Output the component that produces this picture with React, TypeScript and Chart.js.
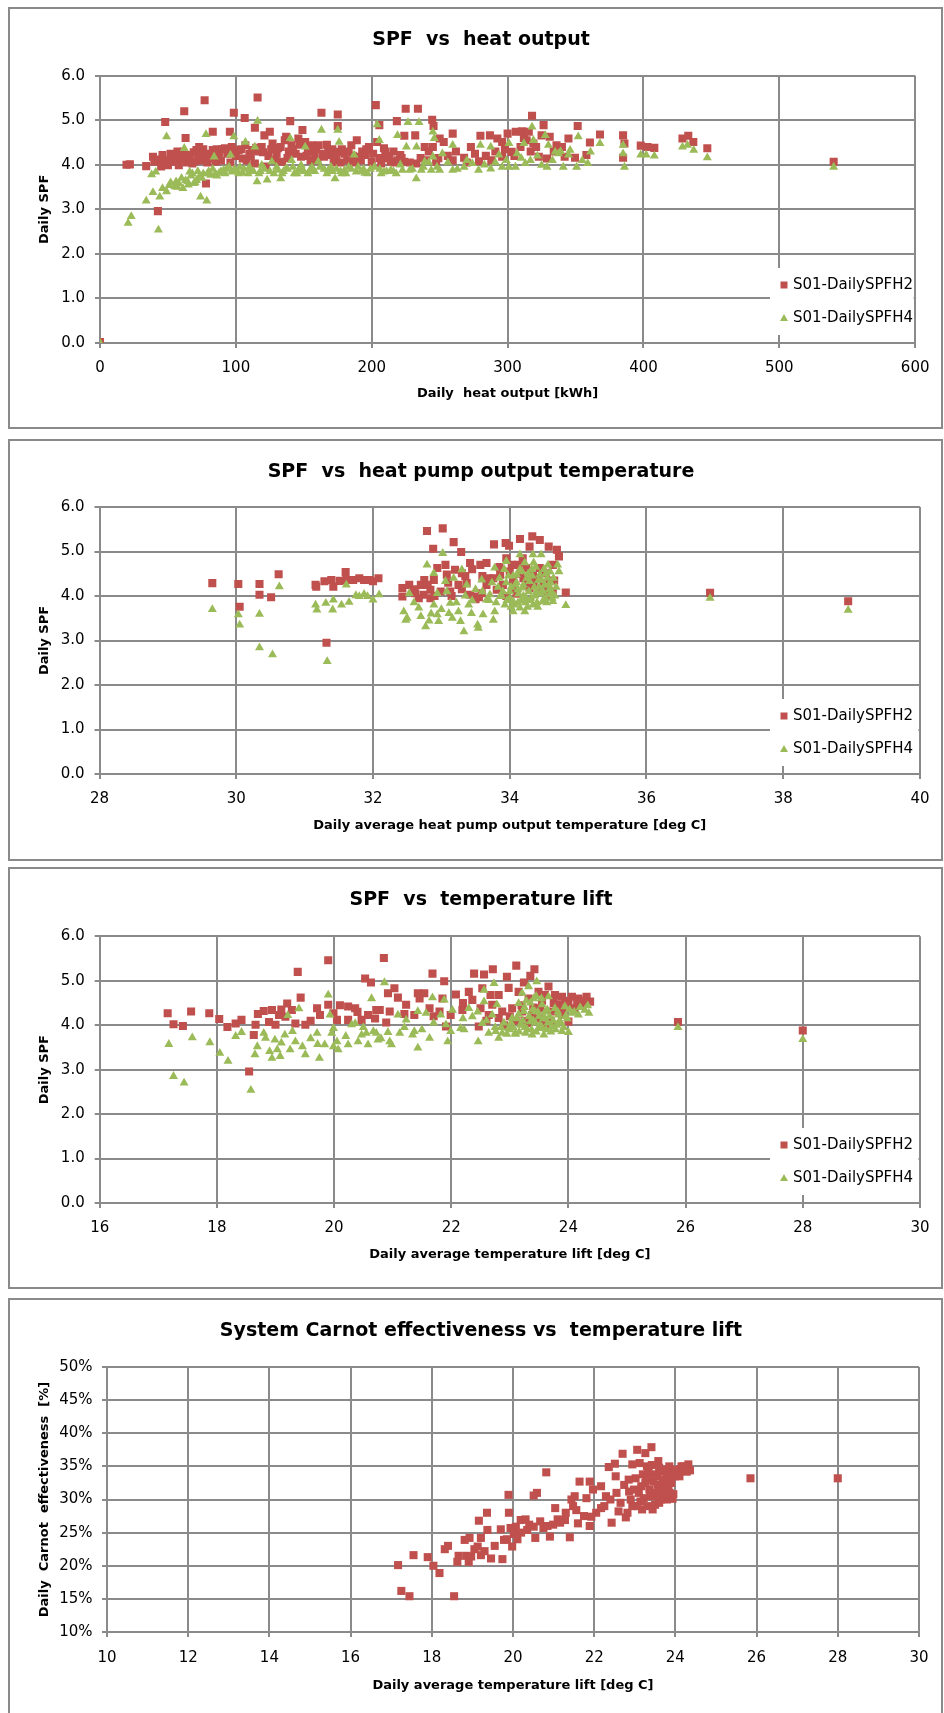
import React, { useEffect, useRef } from 'react';
import { Chart, registerables } from 'chart.js';

Chart.register(...registerables);

const FONT = '"DejaVu Sans", sans-serif';
const RED = '#C0504D';
const GREEN = '#9BBB59';
const GRID = '#8A8A8A';

type Pt = [number, number];

// ---------- Chart 1: SPF vs heat output (kWh, SPF) ----------
const heatOutputSpfH2: Pt[] = [
  [0, 0.02], [19.5, 4.0], [22, 4.01], [34, 3.97], [39, 4.18], [40, 4.07], [42.6, 2.96], [43, 4.12], [45, 3.96], [46, 4.22],
  [48, 4.96], [49, 4.1], [50, 3.99], [52, 4.25], [54, 4.15], [56, 4.07], [58, 3.99], [59, 4.2], [61, 4.29], [62, 5.2],
  [63, 4.6], [64, 4.05], [66, 4.22], [68, 4.03], [69, 4.28], [71, 4.33], [73, 4.18], [73, 4.4], [75, 4.1], [77, 5.45],
  [78, 4.25], [78, 3.58], [80, 4.15], [83, 4.33], [83, 4.74], [85, 4.07], [87, 4.2], [88, 4.29], [90, 4.35], [92, 4.37],
  [95.6, 4.74], [97, 4.4], [98.5, 5.17], [100, 4.2], [102, 4.33], [105, 4.14], [106.5, 5.05], [107, 4.44], [110, 4.25], [112, 4.33],
  [114, 4.83], [114, 4.03], [116, 5.51], [117, 4.3], [119, 4.4], [121, 4.66], [122, 3.96], [124, 4.2], [125, 4.74], [127, 4.48],
  [129, 4.1], [131, 4.37], [134, 4.07], [136, 4.55], [137, 4.63], [139, 4.3], [140, 4.98], [141, 4.44], [144, 4.25], [146, 4.59],
  [148, 4.18], [149, 4.78], [151, 4.51], [153, 4.3], [156, 4.44], [158, 4.25], [160, 4.1], [161, 4.44], [163, 5.17], [165, 4.18],
  [168, 4.33], [170, 4.22], [172, 4.05], [175, 5.13], [175, 4.87], [175, 4.29], [178, 4.35], [180, 4.25], [182, 4.1], [185, 4.44],
  [187, 4.05], [189, 4.55], [190, 4.18], [193, 4.3], [195, 4.22], [198, 4.4], [200, 4.07], [203, 5.34], [204, 4.51], [205.6, 4.89],
  [207, 4.03], [209, 4.37], [211, 4.15], [214, 4.07], [216, 4.3], [218.5, 4.98], [219, 4.1], [221, 4.22], [224, 4.07], [224, 4.65],
  [225, 5.26], [232, 4.66], [232.8, 4.03], [234, 5.26], [239, 4.4], [240, 4.1], [244.5, 5.01], [245, 4.4], [245.5, 4.87], [247.4, 4.07],
  [250, 4.59], [253, 4.51], [259.6, 4.7], [259.6, 4.1], [268, 4.16], [273, 4.4], [279, 4.08], [280, 4.65], [287, 4.66], [288, 4.1],
  [292.5, 4.59], [296, 4.51], [296, 4.18], [300, 4.7], [303, 4.29], [306, 4.74], [309.5, 4.4], [310.7, 4.75], [314, 4.55], [315.6, 4.74],
  [318, 5.1], [319, 4.48], [323, 4.18], [325, 4.66], [326.5, 4.89], [329, 4.14], [331, 4.63], [336, 4.44], [340, 4.4], [342, 4.18],
  [344.8, 4.59], [349.6, 4.16], [351.6, 4.87], [358, 4.22], [360.6, 4.5], [368, 4.68], [385, 4.66], [385, 4.16], [386, 4.48], [398, 4.43],
  [403, 4.4], [408, 4.38], [428.7, 4.59], [433, 4.65], [436.7, 4.51], [447, 4.37], [540, 4.07],
  [47, 4.05], [53, 4.1], [57, 4.3], [60, 4.12], [65, 4.15], [70, 4.08], [72, 4.25], [76, 4.35], [79, 4.05], [82, 4.2],
  [86, 4.35], [89, 4.1], [94, 4.25], [96, 4.05], [99, 4.3], [104, 4.35], [108, 4.1], [111, 4.2], [115, 4.38], [120, 4.28],
  [126, 4.35], [130, 4.25], [133, 4.4], [138, 4.15], [142, 4.35], [147, 4.45], [152, 4.2], [155, 4.1], [159, 4.35], [164, 4.25],
  [167, 4.45], [171, 4.35], [174, 4.15], [177, 4.05], [183, 4.3], [186, 4.2], [192, 4.1], [196, 4.35], [201, 4.25], [206, 4.15],
  [210, 4.3], [213, 4.2], [217, 4.05], [222, 4.15], [228, 4.05], [236, 4.15], [242, 4.3], [249, 4.15], [256, 4.2], [262, 4.3],
  [270, 4.05], [276, 4.25], [284, 4.2], [291, 4.3], [298, 4.35], [305, 4.2], [312, 4.6], [317, 4.3], [321, 4.4], [334, 4.3],
];
const heatOutputSpfH4: Pt[] = [
  [0, 0.0], [20.7, 2.69], [23, 2.84], [34, 3.19], [38, 3.78], [39, 3.38], [41, 3.84], [43, 2.54], [44, 3.28], [46, 3.47],
  [49, 4.63], [49, 3.4], [51, 3.54], [55, 3.51], [56, 3.62], [58, 3.58], [60, 3.7], [61, 3.47], [62, 4.37], [64.5, 3.62],
  [66, 3.84], [67, 3.75], [69, 3.58], [71, 3.65], [73, 3.73], [74, 3.28], [76, 3.8], [78, 4.68], [78.6, 3.19], [80, 3.85],
  [81.5, 3.77], [84, 4.18], [86, 3.75], [87.6, 3.81], [91, 3.88], [93, 3.9], [96, 4.22], [97, 3.84], [98.5, 4.63], [101, 3.85],
  [103, 3.95], [105, 3.81], [107, 4.51], [109, 3.8], [111, 3.88], [114, 4.4], [115.6, 3.62], [116, 4.98], [118, 3.85], [119, 3.99],
  [123, 3.66], [126.5, 4.07], [128, 3.8], [131, 3.88], [133, 3.69], [135, 3.85], [137, 3.92], [140, 4.59], [141, 4.1], [143, 3.8],
  [146, 3.88], [148, 3.99], [150, 3.85], [151, 4.4], [154.5, 3.88], [156, 3.95], [160.6, 4.07], [163, 4.78], [165, 3.9], [168, 3.88],
  [171, 3.85], [173, 3.69], [175, 4.78], [176, 4.51], [178, 3.8], [180, 3.88], [183, 3.95], [187, 4.22], [188.6, 3.84], [192, 3.85],
  [195, 3.81], [199, 3.9], [204, 4.9], [205.6, 4.55], [207, 3.8], [209, 3.84], [214, 3.88], [216, 3.85], [219, 4.66], [222.6, 3.88],
  [225.5, 4.4], [226.7, 4.95], [228, 3.88], [232.8, 3.69], [233, 4.4], [234.8, 4.95], [236.5, 3.88], [239, 4.07], [243.8, 3.88], [245, 4.74],
  [245, 4.18], [246, 4.59], [250, 3.88], [252, 4.25], [259.6, 3.88], [259.6, 4.44], [268, 3.95], [274, 4.03], [278.6, 3.88], [280, 4.44],
  [287.6, 3.91], [287.6, 4.4], [293.6, 4.22], [296, 3.95], [301, 3.95], [301, 4.48], [305.8, 3.95], [307, 4.25], [312, 4.48], [313, 4.03],
  [316.8, 4.1], [318, 4.85], [319, 4.55], [325, 3.99], [327.7, 4.66], [329, 3.95], [330, 4.44], [335, 4.29], [337.5, 4.25], [341, 3.95],
  [344.8, 4.22], [346, 4.33], [350.8, 3.95], [352, 4.63], [359, 4.03], [361, 4.29], [368, 4.48], [385, 4.44], [385, 4.25], [386, 3.95],
  [398, 4.22], [402, 4.22], [408, 4.2], [428.7, 4.4], [432.4, 4.44], [437, 4.33], [447, 4.16], [540, 3.95],
  [52, 3.6], [57, 3.5], [63, 3.65], [65, 3.55], [68, 3.8], [70, 3.6], [72, 3.85], [75, 3.7], [79, 3.8], [83, 3.9],
  [85, 3.8], [89, 3.85], [92, 3.8], [95, 3.95], [99, 3.9], [102, 3.8], [106, 3.9], [110, 3.95], [113, 3.85], [117, 3.8],
  [121, 3.9], [125, 3.85], [130, 3.95], [134, 3.8], [138, 3.9], [142, 3.95], [145, 3.8], [149, 3.9], [153, 3.8], [158, 3.85],
  [162, 3.95], [167, 3.8], [170, 3.95], [174, 3.9], [177, 3.85], [181, 3.8], [185, 3.9], [190, 3.95], [194, 3.9], [197, 3.8],
  [202, 3.95], [206, 3.9], [211, 3.85], [218, 3.8], [221, 4.0], [230, 3.9], [238, 3.95], [242, 4.05], [248, 3.95], [256, 4.05],
  [263, 3.9], [270, 4.1], [283, 4.0], [291, 4.05], [299, 4.1], [310, 4.15], [322, 4.2], [333, 4.1], [339, 4.3], [355, 4.1],
];

// ---------- Chart 2: SPF vs heat pump output temperature (deg C, SPF) ----------
const outputTempSpfH2: Pt[] = [
  [29.65, 4.29], [30.03, 4.27], [30.05, 3.76], [30.34, 4.27], [30.34, 4.03], [30.51, 3.97], [30.62, 4.49], [31.32, 2.95], [31.16, 4.25], [31.17, 4.21],
  [31.29, 4.33], [31.39, 4.36], [31.42, 4.21], [31.51, 4.34], [31.6, 4.54], [31.61, 4.36], [31.71, 4.36], [31.8, 4.4], [31.87, 4.36], [31.95, 4.36],
  [32.0, 4.33], [32.08, 4.4], [32.79, 5.46], [33.02, 5.52], [33.18, 5.21], [32.88, 5.06], [33.29, 4.99], [32.94, 4.63], [33.06, 4.7], [33.08, 4.48],
  [33.2, 4.59], [33.3, 4.51], [33.42, 4.74], [33.25, 4.25], [33.37, 4.29], [33.57, 4.7], [33.66, 4.74], [33.77, 5.16], [33.94, 5.19], [33.99, 5.13],
  [34.15, 5.28], [34.33, 5.34], [34.44, 5.26], [34.29, 5.11], [34.57, 5.11], [34.69, 5.04], [34.72, 4.89], [34.82, 4.08], [32.43, 4.18], [32.43, 3.99],
  [32.53, 4.25], [32.62, 4.06], [32.7, 4.25], [32.74, 4.03], [32.75, 4.36], [32.84, 4.14], [32.89, 4.36], [32.84, 3.95], [32.67, 3.95], [32.99, 4.1],
  [33.13, 4.1], [33.49, 3.99], [33.66, 4.25], [33.76, 4.4], [33.86, 4.48], [33.95, 4.85], [34.03, 4.7], [34.12, 4.7], [34.19, 4.85], [34.24, 4.63],
  [34.34, 4.48], [34.44, 4.63], [34.53, 4.51], [34.63, 4.7], [34.58, 4.33], [34.63, 4.1], [34.05, 4.33], [34.29, 4.18], [34.44, 4.14], [33.9, 4.25],
  [33.81, 4.14], [33.42, 4.03], [33.59, 4.06], [34.1, 4.05], [34.2, 4.4], [34.35, 4.3], [34.5, 4.2], [34.6, 4.0], [34.0, 4.55], [33.55, 3.97],
  [33.5, 3.93], [34.05, 4.15], [34.15, 4.5], [34.25, 4.25], [34.4, 4.4], [34.48, 4.55], [34.55, 4.0], [34.65, 4.35], [33.95, 4.0], [33.7, 4.4],
  [33.85, 4.65], [33.1, 4.3], [33.3, 4.15], [32.6, 4.15], [32.8, 4.25], [32.9, 4.0], [33.15, 4.0], [33.35, 4.45], [33.45, 4.6], [33.6, 4.45],
  [36.93, 4.07], [38.95, 3.88],
];
const outputTempSpfH4: Pt[] = [
  [29.65, 3.7], [30.03, 3.58], [30.05, 3.35], [30.34, 3.59], [30.34, 2.84], [30.53, 2.68], [30.63, 4.21], [31.33, 2.53], [31.16, 3.8], [31.18, 3.69],
  [31.31, 3.84], [31.42, 3.91], [31.41, 3.69], [31.54, 3.8], [31.61, 4.25], [31.65, 3.86], [31.75, 4.01], [31.8, 3.99], [31.87, 4.04], [31.92, 3.99],
  [32.0, 3.91], [32.09, 4.03], [33.02, 4.96], [32.79, 4.7], [32.89, 4.51], [33.06, 4.33], [33.18, 4.4], [33.3, 4.59], [33.37, 4.25], [33.08, 4.1],
  [32.94, 4.06], [32.53, 4.06], [32.45, 3.65], [32.48, 3.46], [32.67, 3.73], [32.7, 3.54], [32.77, 3.31], [32.82, 3.44], [32.89, 3.8], [32.94, 3.58],
  [32.96, 3.43], [33.13, 3.84], [33.11, 3.61], [33.16, 3.5], [33.25, 3.65], [33.28, 3.43], [33.33, 3.2], [33.4, 3.8], [33.44, 3.61], [33.53, 3.35],
  [33.54, 3.28], [33.61, 3.58], [33.66, 3.91], [33.76, 3.46], [33.78, 3.65], [33.71, 4.03], [33.78, 4.63], [33.59, 4.36], [33.86, 3.99], [33.93, 3.8],
  [33.95, 4.78], [34.0, 4.1], [34.05, 3.88], [34.1, 4.48], [34.15, 4.93], [34.15, 3.73], [34.19, 4.18], [34.24, 3.95], [34.29, 4.33], [34.34, 4.93],
  [34.34, 3.8], [34.39, 4.1], [34.44, 4.48], [34.46, 4.93], [34.48, 3.88], [34.51, 4.25], [34.56, 4.7], [34.58, 4.03], [34.63, 3.88], [34.7, 4.7],
  [34.72, 4.55], [34.82, 3.79], [34.05, 3.65], [34.12, 4.14], [34.22, 3.65], [34.0, 3.95], [34.08, 4.25], [34.12, 3.85], [34.18, 4.55], [34.2, 4.0],
  [34.25, 4.4], [34.3, 3.9], [34.32, 4.6], [34.36, 4.2], [34.4, 3.85], [34.42, 4.35], [34.45, 4.05], [34.5, 4.6], [34.52, 3.95], [34.55, 4.4],
  [34.58, 4.15], [34.6, 4.3], [34.62, 3.95], [33.95, 4.3], [33.9, 4.1], [33.85, 4.4], [33.8, 3.85], [34.35, 4.75], [34.26, 3.75], [34.02, 3.75],
  [34.02, 4.2], [34.05, 4.45], [34.07, 3.8], [34.1, 4.3], [34.13, 4.05], [34.15, 4.6], [34.17, 3.9], [34.2, 4.25], [34.22, 4.75], [34.23, 3.85],
  [34.27, 4.5], [34.28, 4.1], [34.31, 3.95], [34.33, 4.45], [34.37, 4.0], [34.38, 4.65], [34.41, 3.75], [34.43, 4.2], [34.47, 4.35], [34.49, 4.1],
  [34.53, 4.5], [34.54, 3.85], [34.57, 4.25], [34.59, 4.55], [34.61, 4.1], [34.64, 4.4], [34.66, 4.0], [34.68, 4.2], [33.98, 4.45], [33.96, 3.9],
  [33.92, 4.6], [33.88, 4.0], [33.83, 4.2], [33.74, 4.3], [33.7, 3.9], [33.6, 4.1], [33.5, 4.15], [33.45, 3.9], [33.35, 4.0], [33.22, 3.85],
  [33.0, 3.7], [32.85, 3.6], [32.6, 3.85], [32.5, 3.5], [36.93, 3.95], [38.95, 3.68],
];

// ---------- Chart 3: SPF vs temperature lift (deg C, SPF) ----------
const liftSpfH2: Pt[] = [
  [17.16, 4.27], [17.26, 4.02], [17.42, 3.98], [17.56, 4.31], [17.87, 4.27], [18.04, 4.14], [18.18, 3.96], [18.32, 4.04], [18.42, 4.12], [18.63, 3.78],
  [18.55, 2.96], [18.66, 4.01], [18.8, 4.32], [18.94, 4.34], [18.89, 4.07], [19.06, 4.23], [19.0, 4.01], [19.2, 4.49], [19.28, 4.34], [19.38, 5.2],
  [19.43, 4.62], [19.17, 4.19], [19.34, 4.04], [19.51, 4.01], [19.71, 4.38], [19.76, 4.23], [19.9, 5.46], [19.9, 4.46], [19.99, 4.27], [20.05, 4.12],
  [20.24, 4.42], [20.36, 4.38], [20.53, 5.05], [20.63, 4.96], [20.24, 4.12], [20.47, 4.12], [20.58, 4.23], [20.72, 4.34], [20.85, 5.51], [21.03, 4.83],
  [20.92, 4.72], [21.09, 4.62], [21.43, 4.72], [21.54, 4.72], [21.46, 4.6], [21.68, 5.16], [21.88, 4.99], [21.85, 4.6], [22.08, 4.69], [20.78, 4.34],
  [20.95, 4.31], [21.23, 4.46], [21.37, 4.23], [21.63, 4.38], [21.8, 4.31], [21.99, 4.23], [22.19, 4.34], [22.3, 4.75], [22.39, 5.16], [22.56, 5.14],
  [22.71, 5.26], [22.53, 4.83], [22.36, 4.57], [22.5, 4.38], [22.67, 4.68], [22.81, 4.68], [22.95, 5.09], [23.11, 5.34], [23.24, 4.96], [23.35, 5.11],
  [23.42, 5.26], [22.98, 4.84], [23.15, 4.75], [23.32, 4.6], [23.49, 4.75], [23.66, 4.87], [23.6, 4.68], [23.77, 4.68], [23.89, 4.64], [24.06, 4.64],
  [24.17, 4.6], [24.31, 4.64], [24.37, 4.53], [24.22, 4.49], [24.0, 4.49], [23.83, 4.46], [23.72, 4.31], [23.52, 4.38], [23.38, 4.23], [23.21, 4.31],
  [23.04, 4.38], [22.87, 4.31], [22.7, 4.46], [22.64, 4.23], [22.81, 4.16], [22.47, 3.97], [21.91, 3.97], [24.0, 4.08], [23.89, 4.23], [24.11, 4.38],
  [20.89, 4.06], [23.1, 4.1], [23.3, 4.05], [23.5, 4.15], [23.7, 4.1], [22.9, 4.0], [23.9, 4.35], [24.3, 4.55],
  [23.0, 4.2], [23.2, 4.45], [23.4, 4.4], [23.55, 4.55], [23.75, 4.5], [23.95, 4.55], [24.15, 4.5], [23.6, 4.0], [23.25, 4.1], [22.6, 4.1],
  [22.2, 4.5], [21.7, 4.2], [21.2, 4.25], [20.7, 4.15], [20.4, 4.3], [20.1, 4.45], [19.6, 4.1], [19.1, 4.35], [18.7, 4.25],
  [25.87, 4.07], [28.0, 3.88],
];
const liftSpfH4: Pt[] = [
  [17.18, 3.57], [17.26, 2.85], [17.44, 2.7], [17.58, 3.72], [17.88, 3.61], [18.05, 3.37], [18.19, 3.19], [18.32, 3.75], [18.42, 3.84], [18.58, 2.54],
  [18.65, 3.34], [18.69, 3.52], [18.8, 3.82], [18.83, 3.71], [18.9, 3.41], [18.99, 3.67], [18.94, 3.26], [19.03, 3.45], [19.08, 3.3], [19.16, 3.78],
  [19.21, 4.22], [19.29, 3.86], [19.34, 3.63], [19.25, 3.45], [19.4, 4.37], [19.46, 3.52], [19.51, 3.34], [19.71, 3.82], [19.72, 3.57], [19.75, 3.26],
  [19.84, 3.56], [19.9, 4.68], [19.93, 4.23], [19.96, 3.82], [19.99, 3.52], [20.05, 3.63], [19.99, 3.93], [20.07, 3.45], [20.24, 3.56], [20.3, 4.01],
  [20.36, 4.04], [20.41, 3.63], [20.47, 3.78], [20.58, 3.56], [20.55, 3.82], [20.64, 4.6], [20.67, 3.86], [20.86, 4.96], [20.72, 3.82], [20.75, 3.67],
  [20.92, 3.84], [20.95, 3.63], [20.98, 3.56], [21.09, 4.23], [21.12, 3.82], [21.23, 4.12], [21.34, 3.78], [21.37, 3.86], [21.43, 3.49], [21.43, 4.31],
  [21.57, 4.27], [21.63, 3.71], [21.68, 4.62], [21.82, 4.23], [21.88, 4.57], [21.91, 4.01], [21.94, 3.63], [21.99, 3.86], [22.02, 4.34], [22.16, 3.93],
  [22.22, 3.9], [22.3, 4.38], [22.36, 4.19], [22.46, 3.63], [22.53, 4.04], [22.56, 4.53], [22.56, 4.79], [22.64, 3.82], [22.73, 4.94], [22.76, 3.86],
  [22.81, 3.71], [22.87, 3.82], [22.7, 4.23], [22.78, 4.46], [22.98, 3.93], [23.04, 4.16], [23.09, 3.82], [23.15, 4.49], [23.18, 4.01], [23.21, 4.72],
  [23.24, 4.31], [23.27, 3.82], [23.32, 4.87], [23.35, 4.08], [23.38, 3.78], [23.41, 4.6], [23.43, 4.31], [23.46, 4.98], [23.49, 3.93], [23.55, 4.46],
  [23.58, 3.78], [23.6, 4.16], [23.66, 4.64], [23.72, 3.97], [23.77, 4.38], [23.83, 4.23], [23.89, 3.86], [23.94, 4.42], [24.0, 3.84], [24.06, 4.27],
  [24.17, 4.23], [24.28, 4.34], [24.33, 4.44], [24.35, 4.27], [23.0, 3.9], [23.1, 3.8], [23.2, 4.0], [23.3, 3.9], [23.4, 4.1], [23.45, 3.85],
  [23.5, 4.2], [23.55, 3.95], [23.65, 4.05], [23.7, 3.85], [23.8, 4.0], [23.85, 4.1], [23.95, 4.2], [23.25, 4.4], [23.35, 4.5], [23.45, 4.65],
  [23.15, 4.25], [22.9, 4.05], [22.85, 3.95], [23.6, 4.3],
  [22.95, 3.8], [23.02, 4.05], [23.06, 3.95], [23.12, 4.15], [23.16, 3.85], [23.22, 4.1], [23.26, 3.95], [23.28, 4.55], [23.33, 4.2], [23.37, 3.9],
  [23.39, 4.35], [23.44, 4.05], [23.48, 4.3], [23.52, 4.0], [23.54, 4.6], [23.57, 4.15], [23.62, 3.9], [23.64, 4.35], [23.68, 4.2], [23.74, 4.1],
  [23.78, 3.9], [23.82, 4.3], [23.87, 4.05], [23.92, 3.95], [23.98, 4.15], [24.02, 4.35], [24.1, 4.3], [24.2, 4.4], [22.75, 3.95], [22.6, 4.1],
  [22.45, 4.3], [22.2, 4.15], [21.7, 4.05], [21.5, 3.9], [21.2, 3.95], [20.8, 3.7], [20.5, 3.95], [20.2, 3.75], [19.6, 3.7], [19.1, 3.6],
  [25.87, 3.95], [28.0, 3.68],
];

// ---------- Chart 4: System Carnot effectiveness vs temperature lift (deg C, %) ----------
const liftCarnot: Pt[] = [
  [17.17, 20.1], [17.55, 21.6], [17.25, 16.2], [17.45, 15.4], [18.55, 15.4], [17.9, 21.3], [18.04, 20.0], [18.19, 18.9], [18.32, 22.5], [18.4, 23.0],
  [18.63, 20.6], [18.66, 21.5], [18.81, 23.9], [18.93, 24.2], [18.91, 20.6], [18.97, 21.4], [19.13, 22.9], [19.21, 24.2], [19.37, 25.4], [19.16, 26.8],
  [19.36, 28.0], [19.46, 21.1], [19.3, 22.2], [19.21, 21.6], [19.74, 21.0], [19.7, 25.5], [19.78, 23.9], [19.89, 30.7], [19.9, 28.0], [19.94, 25.7],
  [20.02, 24.8], [20.11, 24.0], [20.07, 25.9], [19.98, 22.9], [20.19, 26.9], [20.31, 27.0], [20.35, 25.4], [20.51, 25.9], [20.55, 24.2], [20.59, 31.0],
  [20.51, 30.6], [20.67, 26.7], [20.75, 25.7], [20.82, 34.1], [20.91, 24.4], [20.99, 26.2], [21.04, 28.7], [21.16, 26.5], [21.28, 26.9], [21.4, 24.3],
  [21.44, 30.0], [21.48, 29.0], [21.52, 30.5], [21.6, 26.4], [21.64, 32.7], [21.56, 28.4], [21.89, 32.7], [21.81, 30.2], [21.89, 26.0], [21.97, 31.5],
  [21.93, 27.4], [22.17, 28.7], [22.17, 32.0], [22.29, 30.5], [22.36, 34.9], [22.43, 26.5], [22.51, 35.4], [22.53, 33.5], [22.6, 28.2], [22.7, 36.9],
  [22.78, 27.3], [22.74, 32.2], [22.94, 35.3], [23.06, 37.5], [22.86, 31.2], [22.94, 29.0], [23.02, 33.2], [23.1, 31.0], [23.18, 28.5], [23.26, 37.0],
  [23.41, 37.9], [23.3, 35.0], [23.26, 32.5], [23.38, 30.5], [23.34, 34.0], [23.46, 32.7], [23.5, 29.2], [23.58, 35.8], [23.63, 31.5], [23.67, 34.2],
  [23.75, 32.9], [23.79, 30.0], [23.83, 32.0], [23.91, 34.0], [23.93, 30.1], [23.99, 33.5], [24.15, 35.0], [24.23, 34.5], [24.32, 35.3], [24.36, 34.4],
  [22.9, 30.0], [23.14, 29.7], [22.82, 28.0], [23.2, 33.8], [23.45, 31.0], [23.55, 33.5], [23.7, 30.8], [23.85, 35.0], [24.05, 34.2], [23.6, 29.5],
  [22.85, 33.0], [22.98, 31.5], [23.05, 29.0], [23.12, 35.5], [23.16, 32.0], [23.22, 30.2], [23.28, 33.0], [23.32, 29.0], [23.36, 31.5], [23.42, 35.2],
  [23.44, 28.5], [23.48, 33.8], [23.52, 30.5], [23.56, 32.2], [23.6, 34.8], [23.64, 30.0], [23.68, 33.0], [23.72, 31.8], [23.76, 34.5], [23.8, 33.5],
  [23.86, 31.0], [23.9, 32.5], [23.95, 30.8], [24.0, 34.5], [24.1, 33.5], [24.2, 35.0], [24.28, 34.2], [22.65, 29.5], [22.55, 31.0], [22.4, 30.0],
  [22.25, 29.0], [22.05, 28.0], [21.75, 27.5], [21.3, 28.0], [21.1, 27.0], [20.85, 26.0], [20.4, 26.2], [20.2, 25.0], [19.85, 24.0], [19.55, 23.0],
  [19.05, 22.5], [18.85, 21.5], [25.85, 33.2], [28.0, 33.2],
];

// ---------- axis ticks ----------
const heatTicks = { min: 0, max: 600, step: 100 };
const outputTempTicks = { min: 28, max: 40, step: 2 };
const liftTicks = { min: 16, max: 30, step: 2 };
const carnotLiftTicks = { min: 10, max: 30, step: 2 };
const spfTicks = { min: 0, max: 6, step: 1 };
const carnotTicks = { min: 10, max: 50, step: 5 };

const H2_LABEL = 'S01-DailySPFH2';
const H4_LABEL = 'S01-DailySPFH4';

type Series = { label: string; data: Pt[]; color: string; style: 'rect' | 'triangle'; order: number };
type Spec = {
  top: number;
  height: number;
  noBottom?: boolean;
  title: string;
  xTitle: string;
  yTitle: string;
  xr: { min: number; max: number; step: number };
  yr: { min: number; max: number; step: number };
  yFmt: (v: number) => string;
  series: Series[];
  area: { left: number; right: number; top: number; bottom: number };
  xTickPad: number;
  yTickPad: number;
  xTitlePad: number;
  yTitlePad: number;
  legend: boolean;
};

const CANVAS_W = 931;

const spfSeries = (h2: Pt[], h4: Pt[]): Series[] => [
  { label: H2_LABEL, data: h2, color: RED, style: 'rect', order: 2 },
  { label: H4_LABEL, data: h4, color: GREEN, style: 'triangle', order: 1 },
];

const specs: Spec[] = [
  {
    top: 7, height: 422, title: 'SPF  vs  heat output', xTitle: 'Daily  heat output [kWh]', yTitle: 'Daily SPF',
    xr: heatTicks, yr: spfTicks, yFmt: (v) => v.toFixed(1), series: spfSeries(heatOutputSpfH2, heatOutputSpfH4),
    area: { left: 90, right: 913, top: 66.7, bottom: 334 }, xTickPad: 11.5, yTickPad: 10, xTitlePad: 25.2, yTitlePad: 27.2, legend: true,
  },
  {
    top: 439, height: 422, title: 'SPF  vs  heat pump output temperature', xTitle: 'Daily average heat pump output temperature [deg C]', yTitle: 'Daily SPF',
    xr: outputTempTicks, yr: spfTicks, yFmt: (v) => v.toFixed(1), series: spfSeries(outputTempSpfH2, outputTempSpfH4),
    area: { left: 89.5, right: 916, top: 66, bottom: 333 }, xTickPad: 11.5, yTickPad: 10, xTitlePad: 25.2, yTitlePad: 27.2, legend: true,
  },
  {
    top: 867, height: 422, title: 'SPF  vs  temperature lift', xTitle: 'Daily average temperature lift [deg C]', yTitle: 'Daily SPF',
    xr: liftTicks, yr: spfTicks, yFmt: (v) => v.toFixed(1), series: spfSeries(liftSpfH2, liftSpfH4),
    area: { left: 89.7, right: 915.7, top: 67.3, bottom: 334 }, xTickPad: 11.5, yTickPad: 10, xTitlePad: 24.2, yTitlePad: 27.2, legend: true,
  },
  {
    top: 1298, height: 415, noBottom: true, title: 'System Carnot effectiveness vs  temperature lift', xTitle: 'Daily average temperature lift [deg C]', yTitle: 'Daily  Carnot  effectiveness  [%]',
    xr: carnotLiftTicks, yr: carnotTicks, yFmt: (v) => `${v}%`,
    series: [{ label: 'Carnot', data: liftCarnot, color: RED, style: 'rect', order: 1 }],
    area: { left: 97, right: 916.5, top: 67, bottom: 332 }, xTickPad: 12.5, yTickPad: 9.5, xTitlePad: 19.2, yTitlePad: 27.2, legend: false,
  },
];

function makeLegendPlugin(spec: Spec) {
  return {
    id: 'boxLegend',
    afterDatasetsDraw(chart: any) {
      if (!spec.legend) return;
      const { ctx, chartArea } = chart;
      const x0 = 760;
      ctx.save();
      ctx.fillStyle = '#ffffff';
      ctx.fillRect(x0, chartArea.bottom - 75, chartArea.right - 1.5 - x0, 67);
      const rows = [
        { y: chartArea.bottom - 58, s: spec.series[0] },
        { y: chartArea.bottom - 25, s: spec.series[1] },
      ];
      const mx = 774;
      for (const r of rows) {
        ctx.fillStyle = r.s.color;
        if (r.s.style === 'rect') {
          ctx.fillRect(mx - 3.5, r.y - 3.5, 7, 7);
        } else {
          ctx.beginPath();
          ctx.moveTo(mx, r.y - 4);
          ctx.lineTo(mx + 4, r.y + 3);
          ctx.lineTo(mx - 4, r.y + 3);
          ctx.closePath();
          ctx.fill();
        }
        ctx.fillStyle = '#000';
        ctx.font = `15px ${FONT}`;
        ctx.textBaseline = 'middle';
        ctx.textAlign = 'left';
        ctx.fillText(r.s.label, 783, r.y);
      }
      ctx.restore();
    },
  };
}

function Panel({ spec }: { spec: Spec }) {
  const ref = useRef<HTMLCanvasElement | null>(null);
  const canvasH = spec.noBottom ? spec.height - 2 : spec.height - 4;

  useEffect(() => {
    const canvas = ref.current;
    if (!canvas) return;
    const a = spec.area;
    const chart = new Chart(canvas, {
      type: 'scatter',
      data: {
        datasets: spec.series.map((s) => ({
          label: s.label,
          data: s.data.map(([x, y]) => ({ x, y })),
          pointStyle: s.style,
          pointRadius: s.style === 'rect' ? 5.7 : 5.2,
          pointHoverRadius: s.style === 'rect' ? 5.7 : 5.2,
          backgroundColor: s.color,
          borderColor: s.color,
          borderWidth: 0,
          order: s.order,
        })),
      },
      options: {
        animation: false,
        responsive: false,
        maintainAspectRatio: false,
        events: [],
        layout: { padding: { left: 0, right: CANVAS_W - a.right, top: a.top, bottom: 0 } },
        plugins: {
          legend: { display: false },
          tooltip: { enabled: false },
          title: { display: false },
        },
        scales: {
          x: {
            type: 'linear',
            min: spec.xr.min,
            max: spec.xr.max,
            ticks: {
              stepSize: spec.xr.step,
              autoSkip: false,
              maxRotation: 0,
              padding: spec.xTickPad,
              color: '#000',
              font: { family: FONT, size: 15 },
            },
            grid: { color: GRID, lineWidth: 2, tickLength: 5 },
            border: { color: GRID, width: 2 },
            title: {
              display: true,
              text: spec.xTitle,
              color: '#000',
              font: { family: FONT, size: 13, weight: 'bold' },
              padding: { top: 0, bottom: spec.xTitlePad },
            },
            afterFit: (s: any) => {
              s.height = canvasH - a.bottom;
            },
          },
          y: {
            type: 'linear',
            min: spec.yr.min,
            max: spec.yr.max,
            ticks: {
              stepSize: spec.yr.step,
              autoSkip: false,
              padding: spec.yTickPad,
              color: '#000',
              font: { family: FONT, size: 15 },
              callback: (v: any) => spec.yFmt(Number(v)),
            },
            grid: { color: GRID, lineWidth: 2, tickLength: 5 },
            border: { color: GRID, width: 2 },
            title: {
              display: true,
              text: spec.yTitle,
              color: '#000',
              font: { family: FONT, size: 13, weight: 'bold' },
              padding: { top: spec.yTitlePad, bottom: 0 },
            },
            afterFit: (s: any) => {
              s.width = a.left;
            },
          },
        },
      } as any,
      plugins: [makeLegendPlugin(spec)],
    });
    return () => chart.destroy();
  }, []);

  return (
    <div
      style={{
        position: 'absolute',
        left: 8,
        top: spec.top,
        width: 935,
        height: spec.height,
        boxSizing: 'border-box',
        borderTop: `2px solid ${GRID}`,
        borderLeft: `2px solid ${GRID}`,
        borderRight: `2px solid ${GRID}`,
        borderBottom: spec.noBottom ? 'none' : `2px solid ${GRID}`,
        background: '#fff',
      }}
    >
      <canvas ref={ref} width={CANVAS_W} height={canvasH} style={{ position: 'absolute', left: 0, top: 0, width: CANVAS_W, height: canvasH }} />
      <div
        style={{
          position: 'absolute',
          left: 0,
          top: 16.5,
          width: 942,
          textAlign: 'center',
          fontFamily: FONT,
          fontWeight: 'bold',
          fontSize: 19,
          lineHeight: '24px',
          whiteSpace: 'pre',
          color: '#000',
        }}
      >
        {spec.title}
      </div>
    </div>
  );
}

export default function App() {
  return (
    <div style={{ height: 1690 }}>
      {specs.map((s, i) => (
        <Panel key={i} spec={s} />
      ))}
    </div>
  );
}
